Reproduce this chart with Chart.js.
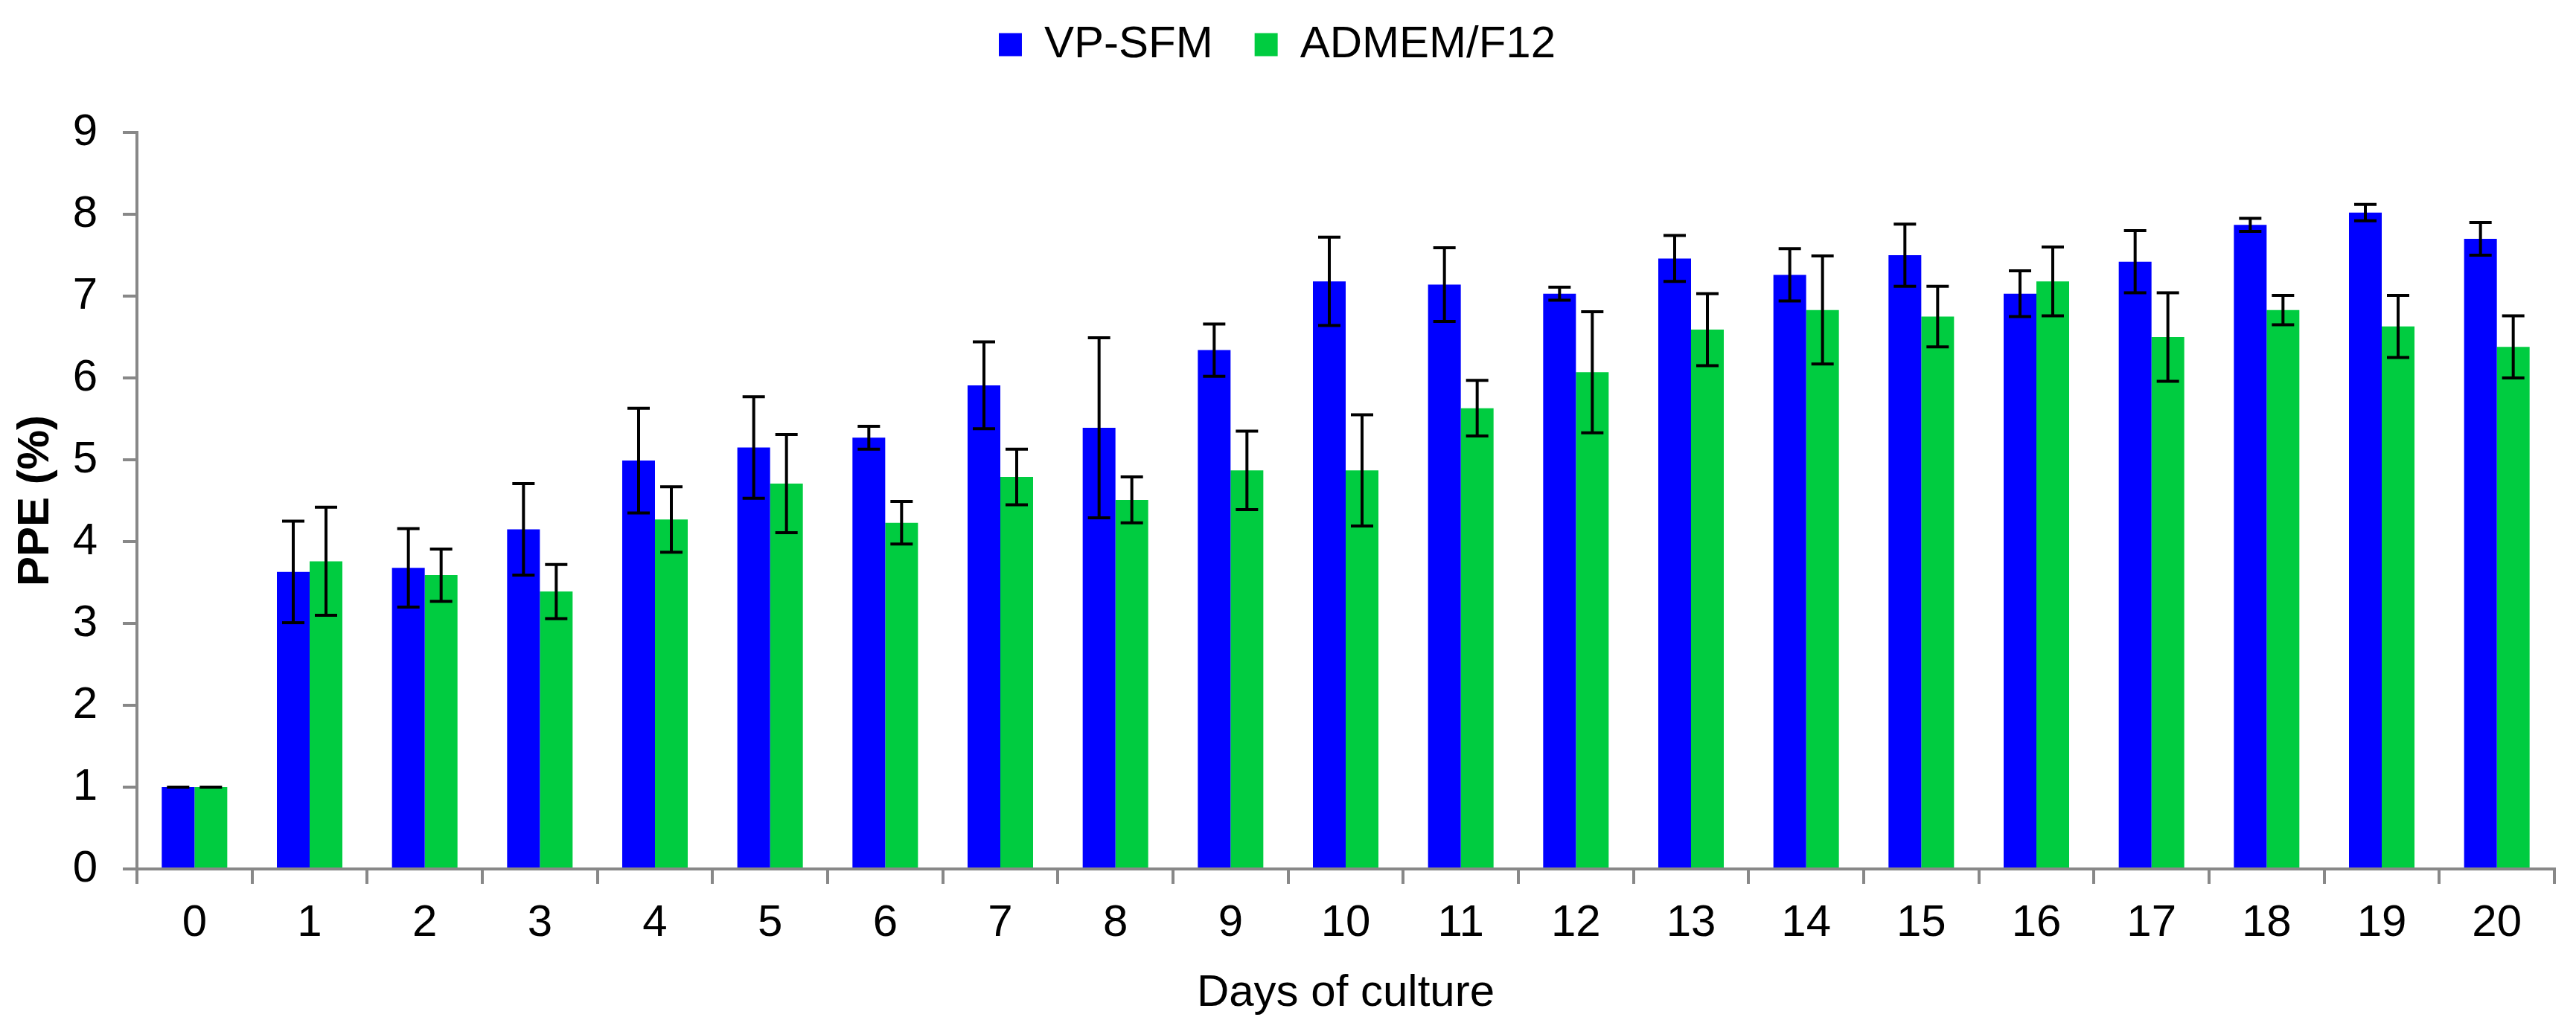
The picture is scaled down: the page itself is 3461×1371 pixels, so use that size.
<!DOCTYPE html>
<html>
<head>
<meta charset="utf-8">
<script src="https://cdn.jsdelivr.net/npm/chart.js@4/dist/chart.umd.min.js"></script>
<style>
html,body{margin:0;padding:0;background:#fff;}
#wrap{width:3461px;height:1371px;}
</style>
</head>
<body>
<div id="wrap"><canvas id="c" width="3461" height="1371"></canvas></div>
<script>
const days = ['0','1','2','3','4','5','6','7','8','9','10','11','12','13','14','15','16','17','18','19','20'];
const vpSfm = [1.00,3.63,3.68,4.15,4.99,5.15,5.27,5.91,5.39,6.34,7.18,7.14,7.03,7.46,7.26,7.50,7.03,7.42,7.87,8.02,7.70];
const vpSfmErr = [0.00,0.62,0.48,0.56,0.64,0.62,0.14,0.53,1.10,0.32,0.54,0.45,0.08,0.28,0.32,0.38,0.28,0.38,0.08,0.10,0.20];
const admem = [1.00,3.76,3.59,3.39,4.27,4.71,4.23,4.79,4.51,4.87,4.87,5.63,6.07,6.59,6.83,6.75,7.18,6.50,6.83,6.63,6.38];
const admemErr = [0.00,0.66,0.32,0.33,0.40,0.60,0.26,0.34,0.28,0.48,0.68,0.34,0.74,0.44,0.66,0.37,0.42,0.54,0.18,0.38,0.38];
const yTicks = [0,1,2,3,4,5,6,7,8,9];

const FONT = "'Liberation Sans', Arial, sans-serif";
const AXIS = '#888888';

const errorBars = {
  id: 'errorBars',
  afterDatasetsDraw(chart) {
    const ctx = chart.ctx;
    const y = chart.scales.y;
    const errs = [vpSfmErr, admemErr];
    ctx.save();
    ctx.strokeStyle = '#000';
    ctx.lineWidth = 4;
    chart.data.datasets.forEach((ds, di) => {
      const meta = chart.getDatasetMeta(di);
      meta.data.forEach((bar, i) => {
        const v = ds.data[i], e = errs[di][i];
        const yt = y.getPixelForValue(v + e);
        const yb = y.getPixelForValue(v - e);
        const x = bar.x, hw = 15;
        ctx.beginPath();
        ctx.moveTo(x, yt); ctx.lineTo(x, yb);
        ctx.moveTo(x - hw, yt); ctx.lineTo(x + hw, yt);
        ctx.moveTo(x - hw, yb); ctx.lineTo(x + hw, yb);
        ctx.stroke();
      });
    });
    ctx.restore();
  }
};

const legendFix = {
  id: 'legendFix',
  beforeLayout(chart) {
    const lg = chart.legend;
    if (lg && !lg._patched) {
      const orig = lg.fit;
      lg.fit = function() { orig.call(this); this.height = 178; };
      lg._patched = true;
    }
  },
  afterLayout(chart) {
    const lg = chart.legend;
    if (lg) { lg.top -= 26; lg.bottom -= 26; }
  }
};

new Chart(document.getElementById('c'), {
  type: 'bar',
  data: {
    labels: days,
    datasets: [
      { label: 'VP-SFM', data: vpSfm, backgroundColor: '#0000FF', borderWidth: 0 },
      { label: 'ADMEM/F12', data: admem, backgroundColor: '#00CC40', borderWidth: 0 }
    ]
  },
  options: {
    responsive: false,
    devicePixelRatio: 1,
    animation: false,
    layout: { padding: { left: 0, right: 29, top: 0, bottom: 0 } },
    datasets: { bar: { barPercentage: 1.0, categoryPercentage: 0.569 } },
    plugins: {
      tooltip: { enabled: false },
      legend: {
        position: 'top',
        labels: {
          boxWidth: 31, boxHeight: 31, padding: 56,
          color: '#000',
          font: { family: FONT, size: 60 }
        }
      }
    },
    scales: {
      x: {
        afterFit(s) { s.height = 203; },
        grid: { drawOnChartArea: false, drawTicks: true, tickLength: 20, color: AXIS, lineWidth: 4 },
        border: { color: AXIS, width: 4 },
        ticks: { color: '#000', font: { family: FONT, size: 60 }, padding: 17, maxRotation: 0, autoSkip: false },
        title: { display: true, text: 'Days of culture', color: '#000', font: { family: FONT, size: 60 }, padding: { top: 10, bottom: 0 } }
      },
      y: {
        min: 0, max: 9,
        afterFit(s) { s.width = 184; },
        afterBuildTicks(s) { s.ticks = yTicks.map(v => ({ value: v })); },
        grid: { drawOnChartArea: false, drawTicks: true, tickLength: 19, color: AXIS, lineWidth: 4 },
        border: { color: AXIS, width: 4 },
        ticks: { color: '#000', font: { family: FONT, size: 60 }, padding: 34 },
        title: { display: true, text: 'PPE (%)', color: '#000', font: { family: FONT, size: 60, weight: 'bold' }, padding: { top: 12, bottom: 0 } }
      }
    }
  },
  plugins: [errorBars, legendFix]
});
</script>
</body>
</html>
